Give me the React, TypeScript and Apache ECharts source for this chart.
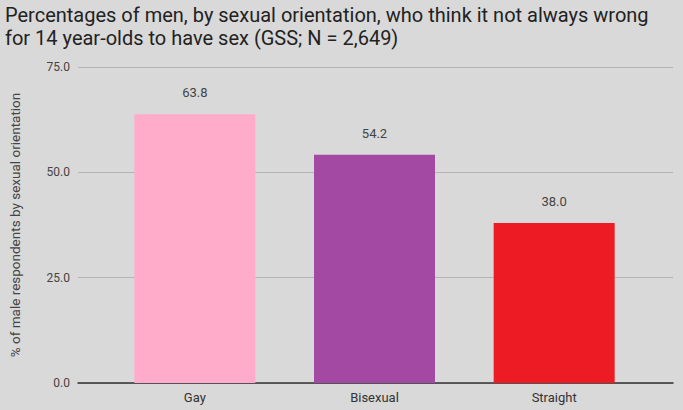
import React, { useEffect, useRef } from "react";
import * as echarts from "echarts";

const titleLines = [
  "Percentages of men, by sexual orientation, who think it not always wrong",
  "for 14 year-olds to have sex (GSS; N = 2,649)",
];
const categories = ["Gay", "Bisexual", "Straight"];
const values = [63.8, 54.2, 38.0];
const barColors = ["#ffabc9", "#a349a4", "#ed1c24"];
const yAxisName = "% of male respondents by sexual orientation";
const yMin = 0;
const yMax = 75;
const yInterval = 25;

export default function App() {
  const ref = useRef<HTMLDivElement>(null);
  useEffect(() => {
    const chart = echarts.init(ref.current!, null, { renderer: "svg" });
    chart.setOption({
      animation: false,
      backgroundColor: "#d9d9d9",
      textStyle: { fontFamily: "Roboto" },
      title: titleLines.map((t, i) => ({
        text: t,
        left: 5,
        top: 5 + i * 23,
        padding: 0,
        textStyle: {
          fontFamily: "Roboto",
          fontSize: 20,
          fontWeight: "normal",
          color: "#222",
          lineHeight: 20,
        },
      })),
      grid: [
        { left: 74, right: 10, top: 67, bottom: 27, containLabel: false },
        { left: 105, right: 39, top: 67, bottom: 27, containLabel: false },
      ],
      xAxis: [
        {
          gridIndex: 0,
          type: "category",
          data: categories,
          axisLine: { show: true, lineStyle: { color: "#333", width: 1.5 } },
          axisTick: { show: false },
          axisLabel: { show: false },
        },
        {
          gridIndex: 1,
          type: "category",
          data: categories,
          axisLine: { show: false },
          axisTick: { show: false },
          axisLabel: { color: "#333", fontSize: 13, margin: 8 },
        },
      ],
      yAxis: [
        {
          gridIndex: 0,
          type: "value",
          min: yMin,
          max: yMax,
          interval: yInterval,
          name: yAxisName,
          nameLocation: "middle",
          nameGap: 56,
          nameTextStyle: { color: "#444", fontSize: 13.5 },
          axisLine: { show: false },
          axisTick: { show: false },
          axisLabel: {
            color: "#444",
            fontSize: 12,
            margin: 8,
            formatter: (v: number) => v.toFixed(1),
          },
          splitLine: { lineStyle: { color: "#b4b4b4", width: 1 } },
        },
        {
          gridIndex: 1,
          type: "value",
          min: yMin,
          max: yMax,
          interval: yInterval,
          show: false,
          splitLine: { show: false },
        },
      ],
      series: [
        {
          type: "bar",
          xAxisIndex: 1,
          yAxisIndex: 1,
          barWidth: 121,
          data: values.map((v, i) => ({
            value: v,
            itemStyle: { color: barColors[i] },
          })),
          label: {
            show: true,
            position: "top",
            distance: 15,
            color: "#444",
            fontSize: 13,
            formatter: (p: any) => Number(p.value).toFixed(1),
          },
        },
      ],
    });
    return () => chart.dispose();
  }, []);
  return (
    <div
      ref={ref}
      style={{ position: "absolute", left: 0, top: 0, width: 683, height: 410 }}
    />
  );
}
